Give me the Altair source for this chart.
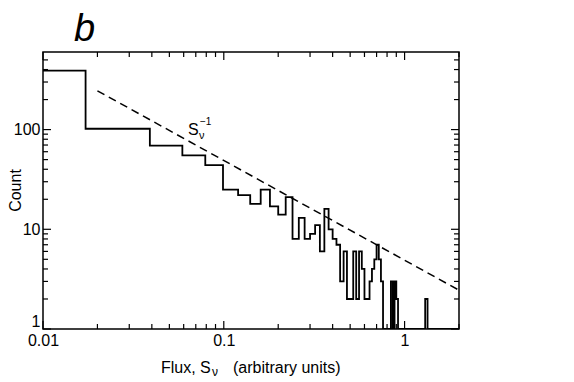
import altair as alt
import pandas as pd

W, H = 416, 277

# histogram: left bin edges and counts (1 = empty bin drawn on the axis)
bin_left = [0.01, 0.0172, 0.039, 0.059, 0.079, 0.099, 0.12, 0.14, 0.16, 0.18,
            0.20, 0.22, 0.24, 0.26, 0.28, 0.30, 0.32, 0.34, 0.36, 0.38,
            0.40, 0.42, 0.44, 0.46, 0.48, 0.50, 0.52, 0.54, 0.56, 0.58,
            0.60, 0.62, 0.64, 0.66, 0.68, 0.70, 0.72, 0.74, 0.76, 0.84,
            0.86, 0.88, 0.90, 0.92, 1.30, 1.34, 2.0]
bin_count = [390, 102, 69, 55, 44, 25, 22, 18, 25, 17,
             14, 21, 8, 13, 8, 9, 11, 6, 16, 10,
             8, 7, 3, 6, 2, 2, 6, 2, 6, 4,
             2, 2, 3, 4, 5, 7, 5, 3, 1, 3,
             1, 3, 2, 1, 2, 1, 1]

# S^-1 reference line
ref_flux = [0.02, 2.0]
ref_count = [245, 2.45]

x_major = [0.01, 0.1, 1]
x_minor = [0.02, 0.03, 0.04, 0.05, 0.06, 0.07, 0.08, 0.09,
           0.2, 0.3, 0.4, 0.5, 0.6, 0.7, 0.8, 0.9, 2]
y_major = [1, 10, 100]
y_minor = [2, 3, 4, 5, 6, 7, 8, 9, 20, 30, 40, 50, 60, 70, 80, 90,
           200, 300, 400, 500]

FONT = "Liberation Sans"

xs = alt.Scale(type="log", domain=[0.01, 2], nice=False)
ys = alt.Scale(type="log", domain=[1, 600], nice=False)
XA = alt.Axis(values=x_major, format="~g", title=None, domain=False, ticks=False,
              tickSize=0, grid=False, labelFontSize=16, labelFont=FONT,
              labelColor="black", labelPadding=3, labelFlush=False)
YA = alt.Axis(values=y_major, format="d", title=None, domain=False, ticks=False,
              tickSize=0, grid=False, labelFontSize=16, labelFont=FONT,
              labelColor="black", labelPadding=3, labelFlush=True)

hist = pd.DataFrame({"flux": bin_left, "count": bin_count})
ref = pd.DataFrame({"flux": ref_flux, "count": ref_count})

step = alt.Chart(hist).mark_line(interpolate="step-after", color="black",
                                 strokeWidth=1.8, clip=True).encode(
    x=alt.X("flux:Q", scale=xs, axis=XA),
    y=alt.Y("count:Q", scale=ys, axis=YA),
)

dash = alt.Chart(ref).mark_line(color="black", strokeWidth=1.5,
                                strokeDash=[8, 5]).encode(
    x=alt.X("flux:Q", scale=xs, axis=XA),
    y=alt.Y("count:Q", scale=ys, axis=YA),
)


def xticks(vals, ln):
    d = pd.DataFrame({"flux": vals})
    bot = alt.Chart(d).mark_rule(color="black", strokeWidth=1.2).encode(
        x=alt.X("flux:Q", scale=xs, axis=XA), y=alt.value(H), y2=alt.value(H - ln))
    top = alt.Chart(d).mark_rule(color="black", strokeWidth=1.2).encode(
        x=alt.X("flux:Q", scale=xs, axis=XA), y=alt.value(0), y2=alt.value(ln))
    return [bot, top]


def yticks(vals, ln):
    d = pd.DataFrame({"count": vals})
    left = alt.Chart(d).mark_rule(color="black", strokeWidth=1.2).encode(
        y=alt.Y("count:Q", scale=ys, axis=YA), x=alt.value(0), x2=alt.value(ln))
    right = alt.Chart(d).mark_rule(color="black", strokeWidth=1.2).encode(
        y=alt.Y("count:Q", scale=ys, axis=YA), x=alt.value(W), x2=alt.value(W - ln))
    return [left, right]


def txt(s, x, y, size, **kw):
    return alt.Chart(pd.DataFrame({"t": [s]})).mark_text(
        font=FONT, fontSize=size, color="black", **kw).encode(
        x=alt.value(x), y=alt.value(y), text="t:N")


texts = [
    txt("b", 31, -11, 38, fontStyle="italic", align="left", baseline="alphabetic"),
    txt("Count", -22, H / 2, 16, angle=270, align="center", baseline="alphabetic"),
    txt("Flux, S", 118, 321, 16, align="left", baseline="alphabetic"),
    txt("\u03bd", 169, 324, 12, align="left", baseline="alphabetic"),
    txt("(arbitrary units)", 190, 321, 16, align="left", baseline="alphabetic"),
    txt("S", 145, 83, 16, align="left", baseline="alphabetic"),
    txt("\u03bd", 156, 87, 11, align="left", baseline="alphabetic"),
    txt("\u22121", 157, 73, 10, align="left", baseline="alphabetic"),
]

layers = [step, dash] + xticks(x_major, 8) + xticks(x_minor, 5) + \
    yticks(y_major, 8) + yticks(y_minor, 5) + texts

chart = alt.layer(*layers).properties(
    width=W, height=H,
    padding={"left": 35, "top": 44, "right": 100, "bottom": 50},
    autosize=alt.AutoSizeParams(type="none"),
    background="white",
).configure_view(stroke="black", strokeWidth=1.5)

chart.save("out.html", embed_options={"renderer": "svg", "actions": False})
